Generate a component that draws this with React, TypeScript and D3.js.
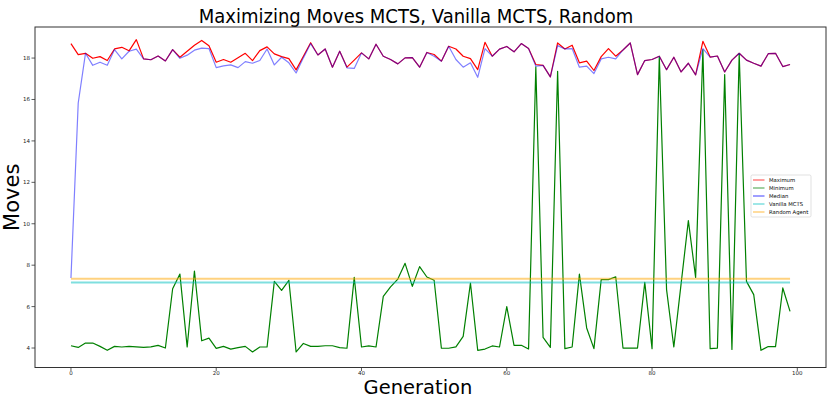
import React from 'react';
import * as d3 from 'd3';

const maximum = [
  18.70, 18.17, 18.23, 17.99, 18.07, 17.88, 18.44, 18.52, 18.35, 18.89,
  17.96, 17.92, 18.10, 17.86, 18.41, 18.04, 18.33, 18.62, 18.85, 18.59,
  17.80, 17.93, 17.80, 18.01, 18.23, 17.88, 18.36, 18.54, 18.20, 18.07,
  17.97, 17.43, 18.09, 18.74, 18.15, 18.44, 17.56, 18.33, 17.56, 17.90,
  18.25, 17.96, 18.67, 18.09, 17.93, 17.72, 18.01, 18.02, 17.56, 18.27,
  18.17, 17.85, 18.57, 18.44, 18.09, 17.97, 17.44, 18.76, 18.09, 18.43,
  18.56, 18.30, 18.70, 18.46, 17.69, 17.65, 17.09, 18.73, 18.44, 18.62,
  17.77, 17.85, 17.40, 18.07, 18.46, 18.09, 18.39, 18.73, 17.20, 17.88,
  17.93, 18.09, 17.44, 18.04, 17.33, 17.75, 17.19, 18.81, 18.05, 18.10,
  17.33, 17.90, 18.23, 17.90, 17.75, 17.61, 18.21, 18.23, 17.59, 17.69,
];

const minimum = [
  4.11, 4.03, 4.24, 4.24, 4.08, 3.89, 4.08, 4.05, 4.08, 4.06,
  4.03, 4.06, 4.13, 4.00, 6.86, 7.57, 4.05, 7.72, 4.35, 4.48,
  3.98, 4.08, 3.95, 4.02, 4.08, 3.81, 4.05, 4.05, 7.22, 6.78,
  7.27, 3.81, 4.22, 4.08, 4.08, 4.11, 4.11, 4.02, 3.99, 7.41,
  4.05, 4.10, 4.05, 6.49, 6.95, 7.33, 8.09, 6.98, 7.93, 7.43,
  7.27, 3.99, 3.99, 4.06, 4.56, 7.14, 3.89, 3.95, 4.10, 4.05,
  6.00, 4.13, 4.13, 3.95, 17.57, 4.51, 4.03, 17.36, 3.97, 4.05,
  7.57, 4.97, 3.97, 7.30, 7.30, 7.44, 4.00, 4.00, 4.00, 7.17,
  3.97, 18.05, 6.82, 4.05, 7.10, 10.15, 7.41, 18.40, 3.97, 4.00,
  17.20, 3.93, 18.20, 7.22, 6.58, 3.89, 4.07, 4.07, 6.90, 5.77,
];

const median = [
  7.38, 15.83, 18.23, 17.65, 17.80, 17.65, 18.41, 17.96, 18.33, 18.43,
  17.96, 17.92, 18.10, 17.86, 18.41, 17.99, 18.14, 18.38, 18.48, 18.46,
  17.54, 17.62, 17.67, 17.54, 17.83, 17.75, 17.88, 18.44, 17.67, 18.04,
  17.77, 17.28, 18.01, 18.70, 18.15, 18.44, 17.56, 18.33, 17.53, 17.50,
  18.25, 17.96, 18.67, 18.09, 17.93, 17.72, 18.01, 18.02, 17.56, 18.27,
  18.09, 17.85, 18.57, 17.93, 17.56, 17.77, 17.07, 18.46, 18.09, 18.43,
  18.56, 18.30, 18.70, 18.46, 17.61, 17.65, 17.09, 18.60, 18.44, 18.46,
  17.56, 17.61, 17.25, 17.96, 18.04, 17.96, 18.39, 18.73, 17.20, 17.88,
  17.93, 18.09, 17.44, 18.04, 17.33, 17.75, 17.19, 18.46, 18.05, 18.10,
  17.33, 17.90, 18.23, 17.90, 17.75, 17.61, 18.21, 18.23, 17.59, 17.69,
];

// baselines, flat over all generations
const vanillaMCTS = 7.17;
const randomAgent = 7.35;

const xTicks = [0, 20, 40, 60, 80, 100];
const yTicks = [4, 6, 8, 10, 12, 14, 16, 18];

const W = 830, H = 399;
const plot = { left: 35, right: 826, top: 27, bottom: 367.5 };
const font = 'DejaVu Sans, sans-serif';

const series = [
  { name: 'Maximum', color: '#ff0000', opacity: 1, width: 1.2 },
  { name: 'Minimum', color: '#008000', opacity: 1, width: 1.2 },
  { name: 'Median', color: '#0000ff', opacity: 0.5, width: 1.2 },
  { name: 'Vanilla MCTS', color: '#00bfbf', opacity: 0.5, width: 2 },
  { name: 'Random Agent', color: '#ffa500', opacity: 0.5, width: 2 },
];

export default function App() {
  const x = d3.scaleLinear().domain([-4.95, 103.95]).range([plot.left, plot.right]);
  const y = d3.scaleLinear().domain([3.06, 19.5]).range([plot.bottom, plot.top]);
  const gens = d3.range(maximum.length);

  const line = d3.line<number>()
    .x((_, i) => x(gens[i]))
    .y((d) => y(d));

  const flat = (v: number) =>
    d3.line<number>().x((g) => x(g)).y(() => y(v))([0, gens[gens.length - 1]]) || '';

  const paths = [
    line(maximum) || '',
    line(minimum) || '',
    line(median) || '',
    flat(vanillaMCTS),
    flat(randomAgent),
  ];

  const cy = (plot.top + plot.bottom) / 2;
  const legend = { x: 751, y: 175, w: 60, h: 42 };

  return (
    <svg width={W} height={H} style={{ position: 'absolute', left: 0, top: 0, background: '#fff' }}
      fontFamily={font}>
      <rect x={0} y={0} width={W} height={H} fill="#fff" />
      <text transform="translate(416,22.5) scale(0.9,1)" textAnchor="middle" fontSize={20} fill="#000">
        Maximizing Moves MCTS, Vanilla MCTS, Random
      </text>

      {paths.map((d, i) => (
        <path key={series[i].name} d={d} fill="none" stroke={series[i].color}
          strokeOpacity={series[i].opacity} strokeWidth={series[i].width}
          strokeLinejoin="round" />
      ))}

      <rect x={plot.left} y={plot.top} width={plot.right - plot.left} height={plot.bottom - plot.top}
        fill="none" stroke="#333" strokeWidth={1} />

      {xTicks.map((t) => (
        <g key={'x' + t} transform={`translate(${x(t)},${plot.bottom})`}>
          <line y2={3.5} stroke="#333" strokeWidth={0.8} />
          <text y={7.5} textAnchor="middle" fontSize={5.5} fill="#222">{t}</text>
        </g>
      ))}
      {yTicks.map((t) => (
        <g key={'y' + t} transform={`translate(${plot.left},${y(t)})`}>
          <line x2={-3.5} stroke="#333" strokeWidth={0.8} />
          <text x={-5} dy="0.35em" textAnchor="end" fontSize={5.5} fill="#222">{t}</text>
        </g>
      ))}

      <text x={418} y={394.3} textAnchor="middle" fontSize={19.5} fill="#000">Generation</text>
      <text transform={`translate(19,${cy}) rotate(-90)`} textAnchor="middle" fontSize={21} fill="#000">
        Moves
      </text>

      <g transform={`translate(${legend.x},${legend.y})`}>
        <rect width={legend.w} height={legend.h} rx={1.5} fill="#fff" fillOpacity={0.8}
          stroke="#ccc" strokeWidth={0.6} />
        {series.map((s, i) => (
          <g key={s.name} transform={`translate(2,${5 + i * 8})`}>
            <line x1={0} x2={11.5} stroke={s.color} strokeOpacity={0.5} strokeWidth={1.5} />
            <text x={16} dy="0.35em" fontSize={5.3} fill="#000">{s.name}</text>
          </g>
        ))}
      </g>
    </svg>
  );
}
